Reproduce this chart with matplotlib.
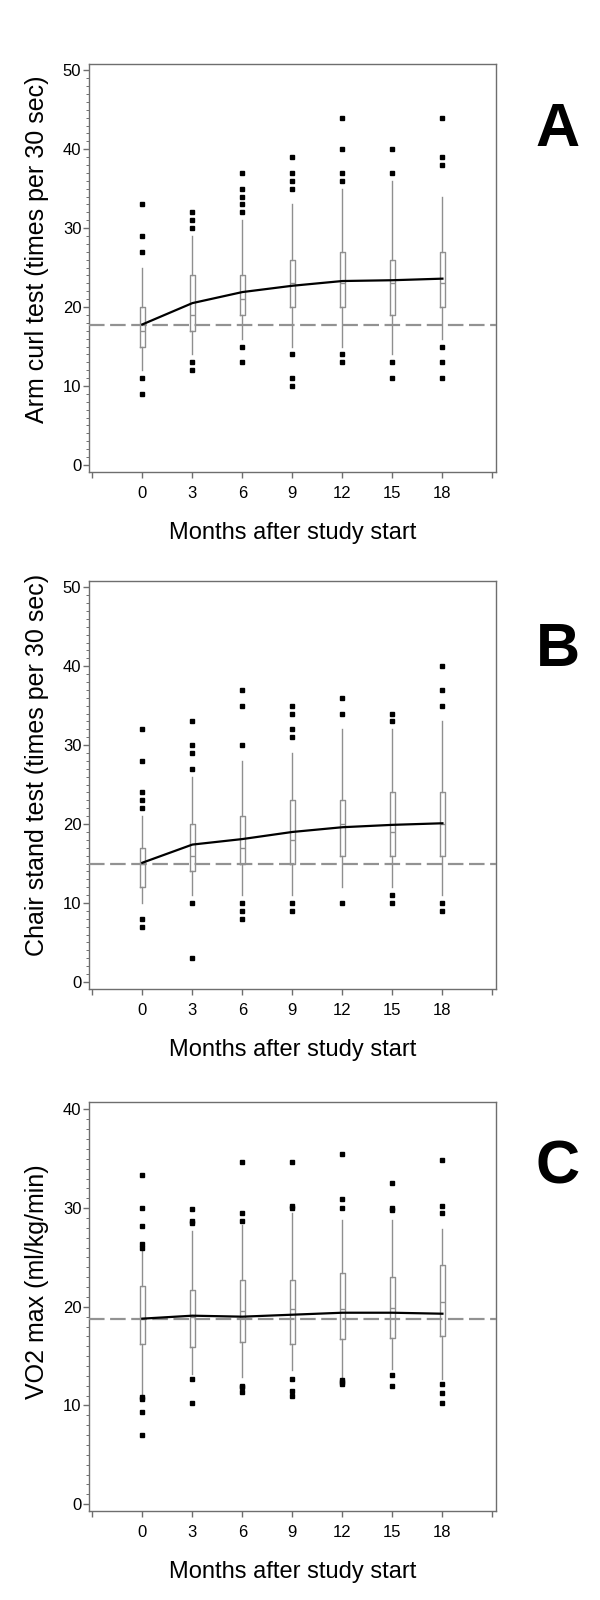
import matplotlib
matplotlib.use("Agg")
import matplotlib.pyplot as plt
from matplotlib.ticker import FixedLocator, MultipleLocator

plt.rcParams['font.family'] = ['Liberation Sans', 'DejaVu Sans']

months = [0, 3, 6, 9, 12, 15, 18]
x_ticks = [-3, 0, 3, 6, 9, 12, 15, 18, 21]
x_tick_labels = ['', '0', '3', '6', '9', '12', '15', '18', '']
x_label = "Months after study start"

# Panel A - arm curl
a_q1 = [15, 17, 19, 20, 20, 19, 20]
a_med = [17, 19, 21, 23, 23, 23, 23]
a_q3 = [20, 24, 24, 26, 27, 26, 27]
a_lo = [12, 14, 16, 15, 15, 14, 16]
a_hi = [25, 29, 31, 33, 35, 36, 34]
a_mean = [17.8, 20.5, 21.9, 22.7, 23.3, 23.4, 23.6]
a_fliers = [[33, 29, 27, 11, 9], [32, 31, 30, 13, 12],
            [37, 35, 34, 33, 32, 15, 13], [39, 37, 36, 35, 14, 11, 10],
            [44, 40, 37, 36, 14, 13], [40, 37, 13, 11],
            [44, 39, 38, 15, 13, 11]]
a_ref = 17.7
a_yticks = [0, 10, 20, 30, 40, 50]

# Panel B - chair stand
b_q1 = [12, 14, 15, 15, 16, 16, 16]
b_med = [15, 16, 17, 18, 20, 19, 20]
b_q3 = [17, 20, 21, 23, 23, 24, 24]
b_lo = [10, 11, 11, 11, 12, 12, 11]
b_hi = [21, 26, 28, 29, 32, 32, 33]
b_mean = [15.1, 17.4, 18.1, 19.0, 19.6, 19.9, 20.1]
b_fliers = [[32, 28, 24, 23, 22, 8, 7], [33, 30, 29, 27, 10, 3],
            [37, 35, 30, 10, 9, 8], [35, 34, 32, 31, 10, 9],
            [36, 34, 10], [34, 33, 11, 10], [40, 37, 35, 10, 9]]
b_ref = 15.0
b_yticks = [0, 10, 20, 30, 40, 50]

# Panel C - VO2 max
c_q1 = [16.2, 15.9, 16.4, 16.2, 16.7, 16.8, 17.0]
c_med = [18.8, 19.0, 19.6, 19.8, 19.8, 19.9, 20.5]
c_q3 = [22.1, 21.7, 22.7, 22.7, 23.4, 23.0, 24.2]
c_lo = [11.2, 13.2, 12.9, 13.6, 12.9, 13.7, 12.7]
c_hi = [25.7, 27.7, 28.3, 29.5, 28.8, 28.8, 27.9]
c_mean = [18.8, 19.1, 19.0, 19.2, 19.4, 19.4, 19.3]
c_fliers = [[33.4, 30.0, 28.2, 26.4, 26.0, 10.9, 10.7, 9.3, 7.0],
            [29.9, 28.7, 28.5, 12.7, 10.2],
            [34.7, 29.5, 28.7, 12.0, 11.9, 11.4],
            [34.7, 30.2, 30.0, 12.7, 11.5, 11.0],
            [35.5, 30.9, 30.0, 12.6, 12.4, 12.2],
            [32.5, 30.0, 29.8, 13.1, 12.0],
            [34.9, 30.2, 29.5, 12.2, 11.3, 10.2]]
c_ref = 18.8
c_yticks = [0, 10, 20, 30, 40]

FRAME = '#6e6e6e'
BOXC = '#8f8f8f'


def draw_panel(ax, q1, med, q3, lo, hi, fliers, mean, ref, yticks, ylim,
               ylabel, ylabel_y):
    stats = []
    for i in range(len(months)):
        stats.append({'q1': q1[i], 'med': med[i], 'q3': q3[i],
                      'whislo': lo[i], 'whishi': hi[i], 'fliers': fliers[i]})
    ax.bxp(stats, positions=months, widths=0.32, showcaps=False,
           showfliers=True, manage_ticks=False,
           boxprops=dict(color=BOXC, lw=1.0),
           whiskerprops=dict(color=BOXC, lw=1.0),
           medianprops=dict(color=BOXC, lw=1.0),
           flierprops=dict(marker='s', markersize=2.2, markerfacecolor='black',
                           markeredgecolor='black', linestyle='none'))
    ax.axhline(ref, color='#929292', lw=1.6, dashes=(7, 2.5), zorder=3)
    ax.plot(months, mean, color='black', lw=1.6, zorder=4)

    ax.set_xlim(-3.2, 21.2)
    ax.set_ylim(*ylim)
    ax.xaxis.set_major_locator(FixedLocator(x_ticks))
    ax.set_xticklabels(x_tick_labels)
    ax.set_yticks(yticks)
    ax.yaxis.set_minor_locator(MultipleLocator(1))
    ax.tick_params(axis='both', which='major', direction='out', length=4,
                   width=1, color=FRAME, labelsize=12)
    ax.tick_params(axis='x', pad=6)
    ax.tick_params(axis='y', pad=1.5)
    ax.tick_params(axis='y', which='minor', direction='out', length=2,
                   width=0.7, color=FRAME)
    for sp in ax.spines.values():
        sp.set_color(FRAME)
        sp.set_linewidth(1.0)

    ax.set_xlabel(x_label, fontsize=17)
    ax.xaxis.label.set_va('center')
    ax.xaxis.set_label_coords(0.5, -0.1495)
    ax.set_ylabel(ylabel, fontsize=18)
    ax.yaxis.label.set_va('center')
    ax.yaxis.set_label_coords(-0.128, ylabel_y)


fig = plt.figure(figsize=(6, 16), dpi=100)
ax_a = fig.add_axes([0.1483, 0.705, 0.678, 0.255])
ax_b = fig.add_axes([0.1483, 0.381875, 0.678, 0.255])
ax_c = fig.add_axes([0.1483, 0.0556, 0.678, 0.2556])

draw_panel(ax_a, a_q1, a_med, a_q3, a_lo, a_hi, a_fliers, a_mean, a_ref,
           a_yticks, (-0.9, 50.8), "Arm curl test (times per 30 sec)", 0.545)
draw_panel(ax_b, b_q1, b_med, b_q3, b_lo, b_hi, b_fliers, b_mean, b_ref,
           b_yticks, (-0.9, 50.8), "Chair stand test (times per 30 sec)", 0.55)
draw_panel(ax_c, c_q1, c_med, c_q3, c_lo, c_hi, c_fliers, c_mean, c_ref,
           c_yticks, (-0.7, 40.75), "VO2 max (ml/kg/min)", 0.56)

for letter, yb in [('A', 146), ('B', 666), ('C', 1184)]:
    fig.text(558 / 600, 1 - yb / 1600, letter, fontsize=44, fontweight='bold',
             ha='center', va='baseline')

fig.savefig('out.png', dpi=100)
